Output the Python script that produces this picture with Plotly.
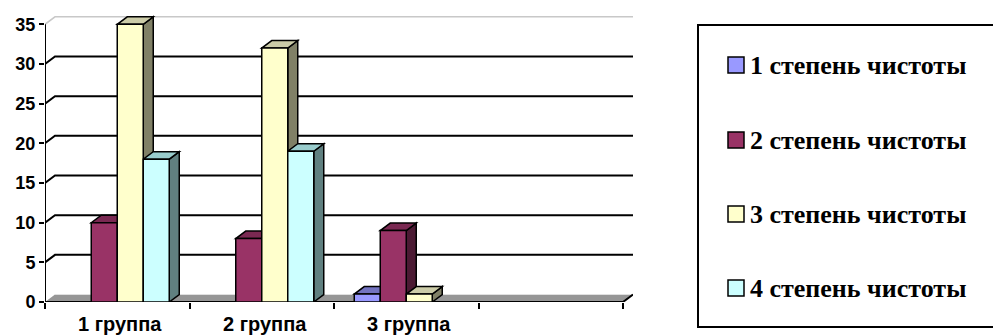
import plotly.graph_objects as go

# ---------------- data ----------------
categories = ["1 группа", "2 группа", "3 группа", ""]
series_names = ["1 степень чистоты", "2 степень чистоты", "3 степень чистоты", "4 степень чистоты"]
s1_values = [0, 0, 1, None]
s2_values = [10, 8, 9, None]
s3_values = [35, 32, 1, None]
s4_values = [18, 19, 0, None]
y_ticks = [0, 5, 10, 15, 20, 25, 30, 35]

series_values = [s1_values, s2_values, s3_values, s4_values]

# ---------------- styles ----------------
front_colors = ["#9999FF", "#993366", "#FFFFCC", "#CCFFFF"]
side_colors = ["#4C4C80", "#4C1A33", "#808066", "#608080"]
top_colors = ["#7373C0", "#7A2952", "#CCCCA8", "#99CCCC"]

FIG_W, FIG_H = 993, 335
L, T, PW, PH = 45, 14, 588, 288
B = FIG_H - T - PH
R = FIG_W - L - PW

PX_PER_X = 144.5
DX = 10 / PX_PER_X              # depth offset in x units
X_RANGE = [-0.5, -0.5 + PW / PX_PER_X]
Y_RANGE = [0, 36.3]
PX_PER_Y = PH / (Y_RANGE[1] - Y_RANGE[0])
DY = 7.5 / PX_PER_Y             # depth offset in y units
BW = 26 / PX_PER_X              # bar width
N_CAT = len(categories)
X_END = -0.5 + N_CAT

SANS = "Liberation Sans, Arial, sans-serif"
SERIF = "Liberation Serif, Times New Roman, serif"


def xp(px):
    return (px - L) / PW


def yp(py):
    return (T + PH - py) / PH


def path(points):
    return "M " + " L ".join(f"{x},{y}" for x, y in points) + " Z"


fig = go.Figure()
shapes = []

# floor
shapes.append(dict(type="path", xref="x", yref="y", layer="below",
                   path=path([(-0.5, 0), (X_END, 0), (X_END + DX, DY), (-0.5 + DX, DY)]),
                   fillcolor="#969696", line=dict(color="#969696", width=0)))
shapes.append(dict(type="line", xref="x", yref="y", layer="below",
                   x0=-0.5 + DX, y0=DY, x1=X_END + DX, y1=DY,
                   line=dict(color="#E0E0E0", width=1)))

# back-wall gridlines (with side-wall connectors)
for v in y_ticks[1:]:
    col = "#C8C8C8" if v == y_ticks[-1] else "black"
    w = 1.5 if v == y_ticks[-1] else 2
    shapes.append(dict(type="path", xref="x", yref="y", layer="below",
                       path=f"M -0.5,{v} L {-0.5 + DX},{v + DY} L {X_END + DX},{v + DY}",
                       line=dict(color=col, width=w)))

# front edge of floor
shapes.append(dict(type="path", xref="x", yref="y", layer="below",
                   path=f"M -0.5,0 L {X_END},0 L {X_END + DX},{DY}",
                   line=dict(color="black", width=2)))

# bars: front faces as Bar traces, top/side faces as shapes
for i, (vals, name) in enumerate(zip(series_values, series_names)):
    off = -2 * BW + i * BW
    fig.add_trace(go.Bar(
        x=list(range(N_CAT)), y=vals, name=name, width=BW, offset=off,
        marker=dict(color=front_colors[i], line=dict(color="black", width=1.5)),
        showlegend=False, hoverinfo="skip"))
    for j, v in enumerate(vals):
        if v is None or v <= 0:
            continue
        xl = j + off
        xr = xl + BW
        shapes.append(dict(type="path", xref="x", yref="y", layer="between",
                           path=path([(xr, 0), (xr + DX, DY), (xr + DX, v + DY), (xr, v)]),
                           fillcolor=side_colors[i], line=dict(color="black", width=1.5)))
        shapes.append(dict(type="path", xref="x", yref="y", layer="between",
                           path=path([(xl, v), (xr, v), (xr + DX, v + DY), (xl + DX, v + DY)]),
                           fillcolor=top_colors[i], line=dict(color="black", width=1.5)))

# y axis line (0..35)
shapes.append(dict(type="line", xref="x", yref="y", layer="above",
                   x0=-0.5, y0=0, x1=-0.5, y1=y_ticks[-1],
                   line=dict(color="black", width=2)))

# legend (manual)
shapes.append(dict(type="rect", xref="paper", yref="paper", layer="above",
                   x0=xp(698), y0=yp(327), x1=xp(998), y1=yp(25),
                   line=dict(color="black", width=2), fillcolor="rgba(0,0,0,0)"))
annotations = []
legend_y = [65, 140, 214, 288]
for i, name in enumerate(series_names):
    cy = legend_y[i]
    shapes.append(dict(type="rect", xref="paper", yref="paper", layer="above",
                       x0=xp(728), y0=yp(cy + 8), x1=xp(744), y1=yp(cy - 8),
                       fillcolor=front_colors[i], line=dict(color="black", width=1.5)))
    annotations.append(dict(text=f"<b>{name}</b>", xref="paper", yref="paper", x=xp(748), y=yp(cy),
                            xanchor="left", yanchor="middle", showarrow=False,
                            font=dict(family=SERIF, size=26, color="black")))

# category labels
for j, c in enumerate(categories):
    if not c:
        continue
    annotations.append(dict(text=f"<b>{c}</b>", xref="x", yref="paper", x=j + 0.02, y=yp(324),
                            xanchor="center", yanchor="middle", showarrow=False,
                            font=dict(family=SANS, size=20, color="black")))

fig.update_layout(
    width=FIG_W, height=FIG_H,
    margin=dict(l=L, r=R, t=T, b=B, pad=0),
    paper_bgcolor="white", plot_bgcolor="white",
    barmode="overlay",
    shapes=shapes, annotations=annotations,
    showlegend=False,
    xaxis=dict(range=X_RANGE, showgrid=False, zeroline=False, showline=False,
               tickvals=[k - 0.5 for k in range(N_CAT + 1)],
               ticktext=[""] * (N_CAT + 1),
               ticks="outside", ticklen=6, tickwidth=2, tickcolor="black"),
    yaxis=dict(range=Y_RANGE, showgrid=False, zeroline=False, showline=False,
               tickvals=y_ticks, ticktext=[f"<b>{t}</b>" for t in y_ticks],
               ticks="outside", ticklen=5, tickwidth=2,
               tickcolor="black",
               tickfont=dict(family=SANS, size=18, color="black")),
)

fig.write_html("out.html")
